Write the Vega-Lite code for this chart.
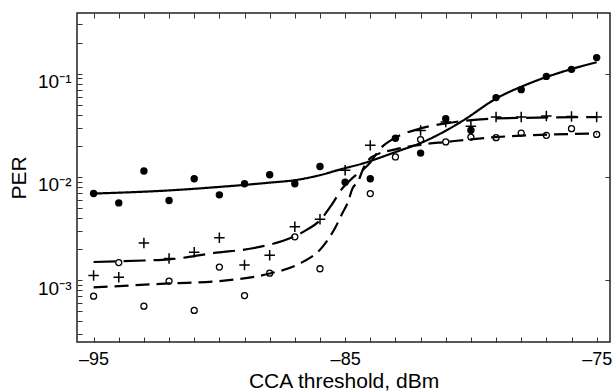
{
  "$schema": "https://vega.github.io/schema/vega-lite/v6.json",
  "width": 533,
  "height": 329,
  "autosize": {"type": "none"},
  "padding": {"left": 77, "top": 13, "right": 3, "bottom": 50},
  "background": "white",
  "config": {"view": {"stroke": "#222", "strokeWidth": 1.5}, "font": "Liberation Sans"},
  "datasets": {
    "pts": [
      {"x": -95, "per": 0.0069, "series": "A"}, {"x": -94, "per": 0.0056, "series": "A"}, {"x": -93, "per": 0.0114, "series": "A"},
      {"x": -92, "per": 0.0059, "series": "A"}, {"x": -91, "per": 0.0096, "series": "A"}, {"x": -90, "per": 0.0067, "series": "A"},
      {"x": -89, "per": 0.0086, "series": "A"}, {"x": -88, "per": 0.0105, "series": "A"}, {"x": -87, "per": 0.0086, "series": "A"},
      {"x": -86, "per": 0.0126, "series": "A"}, {"x": -85, "per": 0.0089, "series": "A"}, {"x": -84, "per": 0.0096, "series": "A"},
      {"x": -83, "per": 0.0237, "series": "A"}, {"x": -82, "per": 0.017, "series": "A"}, {"x": -81, "per": 0.0366, "series": "A"},
      {"x": -80, "per": 0.0283, "series": "A"}, {"x": -79, "per": 0.0586, "series": "A"}, {"x": -78, "per": 0.07, "series": "A"},
      {"x": -77, "per": 0.094, "series": "A"}, {"x": -76, "per": 0.11, "series": "A"}, {"x": -75, "per": 0.143, "series": "A"},
      {"x": -95, "per": 0.00111, "series": "B"}, {"x": -94, "per": 0.00107, "series": "B"}, {"x": -93, "per": 0.00229, "series": "B"},
      {"x": -92, "per": 0.00162, "series": "B"}, {"x": -91, "per": 0.00186, "series": "B"}, {"x": -90, "per": 0.00257, "series": "B"},
      {"x": -89, "per": 0.0014, "series": "B"}, {"x": -88, "per": 0.00174, "series": "B"}, {"x": -87, "per": 0.0033, "series": "B"},
      {"x": -86, "per": 0.0039, "series": "B"}, {"x": -85, "per": 0.0116, "series": "B"}, {"x": -84, "per": 0.0202, "series": "B"},
      {"x": -82, "per": 0.0282, "series": "B"}, {"x": -81, "per": 0.034, "series": "B"}, {"x": -80, "per": 0.031, "series": "B"},
      {"x": -79, "per": 0.038, "series": "B"}, {"x": -78, "per": 0.038, "series": "B"}, {"x": -77, "per": 0.0388, "series": "B"},
      {"x": -76, "per": 0.0385, "series": "B"}, {"x": -75, "per": 0.038, "series": "B"},
      {"x": -95, "per": 0.0007, "series": "C"}, {"x": -94, "per": 0.00148, "series": "C"}, {"x": -93, "per": 0.00056, "series": "C"},
      {"x": -92, "per": 0.00098, "series": "C"}, {"x": -91, "per": 0.00051, "series": "C"}, {"x": -90, "per": 0.00134, "series": "C"},
      {"x": -89, "per": 0.00071, "series": "C"}, {"x": -88, "per": 0.00117, "series": "C"}, {"x": -87, "per": 0.00263, "series": "C"},
      {"x": -86, "per": 0.00129, "series": "C"}, {"x": -84, "per": 0.0069, "series": "C"}, {"x": -83, "per": 0.0156, "series": "C"},
      {"x": -82, "per": 0.023, "series": "C"}, {"x": -81, "per": 0.0218, "series": "C"}, {"x": -80, "per": 0.0243, "series": "C"},
      {"x": -79, "per": 0.024, "series": "C"}, {"x": -78, "per": 0.0266, "series": "C"}, {"x": -77, "per": 0.0253, "series": "C"},
      {"x": -76, "per": 0.0293, "series": "C"}, {"x": -75, "per": 0.0258, "series": "C"}
    ],
    "fit": [
      {"x": -95, "per": 0.0069, "series": "A"}, {"x": -92, "per": 0.0074, "series": "A"}, {"x": -90, "per": 0.008, "series": "A"},
      {"x": -88, "per": 0.0088, "series": "A"}, {"x": -87, "per": 0.0093, "series": "A"}, {"x": -86, "per": 0.0104, "series": "A"},
      {"x": -85.2, "per": 0.0118, "series": "A"}, {"x": -84.3, "per": 0.0135, "series": "A"}, {"x": -83, "per": 0.0174, "series": "A"},
      {"x": -81.9, "per": 0.0218, "series": "A"}, {"x": -81, "per": 0.028, "series": "A"}, {"x": -80.3, "per": 0.0353, "series": "A"},
      {"x": -79, "per": 0.0573, "series": "A"}, {"x": -77.7, "per": 0.08, "series": "A"}, {"x": -76.4, "per": 0.1035, "series": "A"},
      {"x": -75, "per": 0.129, "series": "A"},
      {"x": -95, "per": 0.0015, "series": "B"}, {"x": -93, "per": 0.00155, "series": "B"}, {"x": -92, "per": 0.00159, "series": "B"},
      {"x": -90.3, "per": 0.00182, "series": "B"}, {"x": -88.4, "per": 0.0021, "series": "B"}, {"x": -87.1, "per": 0.0026, "series": "B"},
      {"x": -86.5, "per": 0.0031, "series": "B"}, {"x": -86, "per": 0.0038, "series": "B"}, {"x": -85.55, "per": 0.0053, "series": "B"},
      {"x": -85.1, "per": 0.0078, "series": "B"}, {"x": -84.8, "per": 0.0093, "series": "B"}, {"x": -84, "per": 0.0138, "series": "B"},
      {"x": -83.55, "per": 0.0194, "series": "B"}, {"x": -83.2, "per": 0.0225, "series": "B"}, {"x": -82, "per": 0.0295, "series": "B"},
      {"x": -81, "per": 0.033, "series": "B"}, {"x": -79, "per": 0.0368, "series": "B"}, {"x": -75, "per": 0.038, "series": "B"},
      {"x": -95, "per": 0.00085, "series": "C"}, {"x": -92, "per": 0.00093, "series": "C"}, {"x": -90, "per": 0.00098, "series": "C"},
      {"x": -88, "per": 0.00116, "series": "C"}, {"x": -86.8, "per": 0.00145, "series": "C"}, {"x": -85.9, "per": 0.0021, "series": "C"},
      {"x": -85.4, "per": 0.0032, "series": "C"}, {"x": -85.1, "per": 0.0045, "series": "C"}, {"x": -84.9, "per": 0.0056, "series": "C"},
      {"x": -84.7, "per": 0.0078, "series": "C"}, {"x": -84.5, "per": 0.0089, "series": "C"}, {"x": -84.25, "per": 0.0125, "series": "C"},
      {"x": -83.95, "per": 0.0155, "series": "C"}, {"x": -83, "per": 0.0185, "series": "C"}, {"x": -82, "per": 0.0205, "series": "C"},
      {"x": -81, "per": 0.0218, "series": "C"}, {"x": -79, "per": 0.0243, "series": "C"}, {"x": -75, "per": 0.0263, "series": "C"}
    ]
  },
  "layer": [
    {
      "data": {"name": "fit"},
      "mark": {"type": "line", "strokeWidth": 2.2, "color": "black", "interpolate": "monotone"},
      "encoding": {
        "x": {
          "field": "x", "type": "quantitative",
          "scale": {"domain": [-95.66, -74.47], "nice": false, "zero": false},
          "axis": {
            "orient": "bottom", "values": [-95,-94,-93,-92,-91,-90,-89,-88,-87,-86,-85,-84,-83,-82,-81,-80,-79,-78,-77,-76,-75],
            "labelExpr": "abs(datum.value) % 10 == 5 ? '–' + abs(datum.value) : ''",
            "domain": false, "grid": false, "tickSize": -5, "tickColor": "#333", "tickWidth": 1,
            "labelPadding": 13, "labelFontSize": 18, "labelColor": "black", "labelFont": "Liberation Sans",
            "labelFlush": false, "labelOverlap": false,
            "title": "CCA threshold, dBm", "titleFontSize": 21, "titleFontWeight": "normal", "titleColor": "black",
            "titleFont": "Liberation Sans", "titlePadding": 2
          }
        },
        "y": {
          "field": "per", "type": "quantitative",
          "scale": {"type": "log", "domain": [0.000252, 0.3865], "nice": false},
          "axis": {
            "orient": "left",
            "values": [0.0003,0.0004,0.0005,0.0006,0.0007,0.0008,0.0009,0.001,0.002,0.003,0.004,0.005,0.006,0.007,0.008,0.009,0.01,0.02,0.03,0.04,0.05,0.06,0.07,0.08,0.09,0.1,0.2,0.3],
            "labelExpr": "datum.value == 0.1 ? '10⁻¹' : datum.value == 0.01 ? '10⁻²' : datum.value == 0.001 ? '10⁻³' : ''",
            "domain": false, "grid": false, "tickSize": -5, "tickColor": "#333", "tickWidth": 1,
            "labelPadding": 11, "labelFontSize": 19, "labelColor": "black", "labelFont": "Liberation Sans",
            "labelOffset": 8, "labelFlush": false, "labelOverlap": false,
            "title": "PER", "titleFontSize": 21, "titleFontWeight": "normal", "titleColor": "black",
            "titleFont": "Liberation Sans", "titlePadding": 8
          }
        },
        "detail": {"field": "series"},
        "strokeDash": {
          "field": "series", "type": "nominal",
          "scale": {"domain": ["A", "B", "C"], "range": [[1, 0], [22, 8], [14, 7]]},
          "legend": null
        }
      }
    },
    {
      "data": {"name": "pts"},
      "transform": [{"filter": "datum.series == 'A'"}],
      "mark": {"type": "point", "filled": true, "shape": "circle", "color": "black", "size": 55, "opacity": 1},
      "encoding": {
        "x": {
          "field": "x", "type": "quantitative",
          "axis": {
            "orient": "top", "values": [-95,-94,-93,-92,-91,-90,-89,-88,-87,-86,-85,-84,-83,-82,-81,-80,-79,-78,-77,-76,-75],
            "labels": false, "domain": false, "grid": false, "tickSize": -5, "tickColor": "#333", "title": null
          }
        },
        "y": {
          "field": "per", "type": "quantitative",
          "axis": {
            "orient": "right", "values": [0.001, 0.01, 0.1],
            "labels": false, "domain": false, "grid": false, "tickSize": -5, "tickColor": "#333", "title": null
          }
        }
      }
    },
    {
      "data": {"name": "pts"},
      "transform": [{"filter": "datum.series == 'B'"}],
      "mark": {"type": "point", "filled": false, "shape": "M-1,0L1,0M0,-1L0,1", "color": "black", "size": 110, "strokeWidth": 1.5, "opacity": 1},
      "encoding": {
        "x": {"field": "x", "type": "quantitative", "axis": null},
        "y": {"field": "per", "type": "quantitative", "axis": null}
      }
    },
    {
      "data": {"name": "pts"},
      "transform": [{"filter": "datum.series == 'C'"}],
      "mark": {"type": "point", "filled": false, "shape": "circle", "color": "black", "size": 36, "strokeWidth": 1.3, "opacity": 1},
      "encoding": {
        "x": {"field": "x", "type": "quantitative", "axis": null},
        "y": {"field": "per", "type": "quantitative", "axis": null}
      }
    }
  ],
  "resolve": {"axis": {"x": "independent", "y": "independent"}}
}
